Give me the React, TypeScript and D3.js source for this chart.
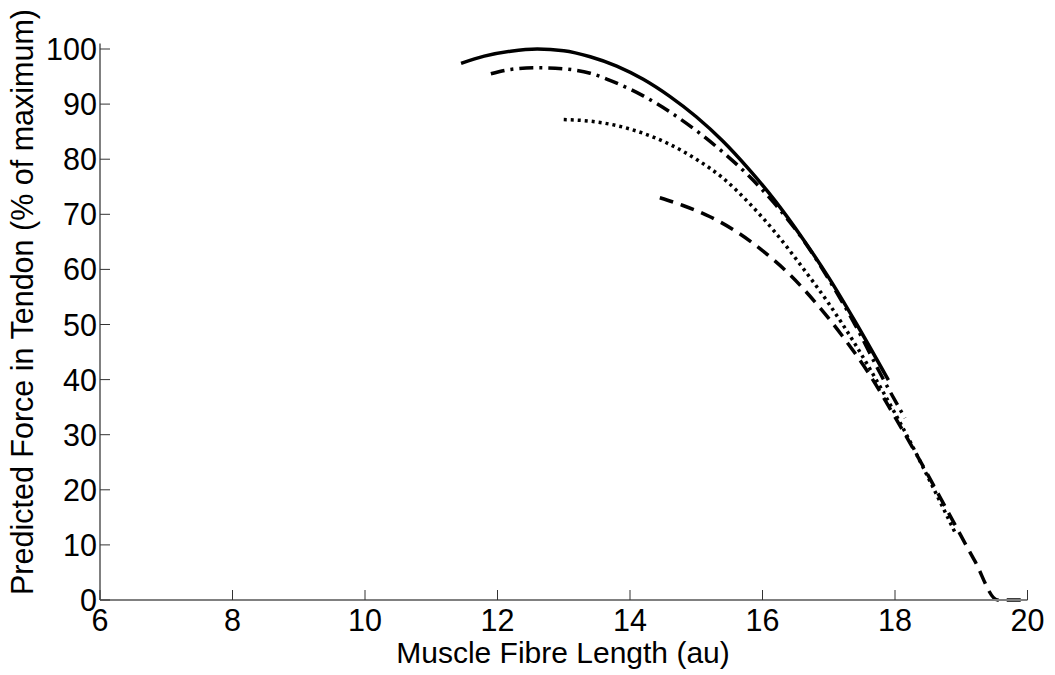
import React from 'react';
import * as d3 from 'd3';

// values (x = fibre length in au, y = % of maximum force)
const solidX = [11.45, 11.8, 12.2, 12.6, 13.0, 13.4, 13.8, 14.2, 14.6, 15.0, 15.4, 15.8, 16.2, 16.6, 17.0, 17.4, 17.9];
const solidY = [97.4, 98.7, 99.6, 100, 99.7, 98.6, 96.9, 94.5, 91.4, 87.7, 83.3, 78.1, 72.3, 65.7, 58.5, 50.5, 39.9];

const dashDotX = [11.9, 12.2, 12.6, 13.0, 13.4, 13.8, 14.2, 14.6, 15.0, 15.4, 15.8, 16.2, 16.6, 17.0, 17.4, 17.8, 18.15];
const dashDotY = [95.5, 96.3, 96.6, 96.4, 95.6, 93.8, 91.5, 88.6, 85.2, 81.3, 76.9, 71.7, 65.6, 58.2, 49.9, 40.6, 33.0];

const dottedX = [13.0, 13.4, 13.8, 14.2, 14.6, 15.0, 15.4, 15.8, 16.2, 16.6, 17.0, 17.4, 17.8, 18.2, 18.6, 18.9];
const dottedY = [87.2, 86.9, 86.1, 84.7, 82.7, 80.0, 76.6, 72.0, 66.6, 60.4, 53.8, 46.4, 38.2, 29.4, 19.8, 12.4];

const dashedX = [14.45, 14.8, 15.2, 15.6, 16.0, 16.4, 16.8, 17.2, 17.6, 18.0, 18.4, 18.8, 19.2, 19.55, 20.0];
const dashedY = [73.0, 71.6, 69.6, 66.9, 63.4, 59.2, 54.0, 48.0, 41.2, 33.2, 24.8, 16.0, 7.2, 0, 0];

const xTicks = [6, 8, 10, 12, 14, 16, 18, 20];
const yTicks = [0, 10, 20, 30, 40, 50, 60, 70, 80, 90, 100];

const series = [
  { xs: solidX, ys: solidY, dash: null },
  { xs: dashDotX, ys: dashDotY, dash: '14,6,3,6' },
  { xs: dottedX, ys: dottedY, dash: '3,4' },
  { xs: dashedX, ys: dashedY, dash: '14,8' },
];

const W = 1055;
const H = 675;
const FONT = 'Arial, "Liberation Sans", Helvetica, sans-serif';

export default function App() {
  const x = d3.scaleLinear().domain([6, 20]).range([100, 1027.5]);
  const y = d3.scaleLinear().domain([0, 101]).range([600, 43.5]);

  const line = d3.line<[number, number]>()
    .x(d => x(d[0]))
    .y(d => y(d[1]))
    .curve(d3.curveMonotoneX);

  return (
    <svg width={W} height={H} style={{ position: 'absolute', left: 0, top: 0, background: '#fff' }}
      fontFamily={FONT}>
      <rect width={W} height={H} fill="#fff" />

      {/* curves */}
      {series.map((s, i) => (
        <path key={i}
          d={line(s.xs.map((v, j) => [v, s.ys[j]] as [number, number])) || ''}
          fill="none" stroke="#000" strokeWidth={3.5}
          strokeDasharray={s.dash || undefined} />
      ))}

      {/* axes, MATLAB style: no box, ticks inward */}
      <line x1={x(6)} x2={x(6)} y1={y(0)} y2={y(101)} stroke="#808080" strokeWidth={2} />
      <line x1={x(6)} x2={x(20)} y1={y(0)} y2={y(0)} stroke="#808080" strokeWidth={2} />

      {yTicks.map(t => (
        <g key={'y' + t}>
          <line x1={x(6)} x2={x(6) + 10} y1={y(t)} y2={y(t)} stroke="#333" strokeWidth={1} />
          <text x={97} y={y(t) + 11} textAnchor="end" fontSize={30.5} fill="#000">{t}</text>
        </g>
      ))}
      {xTicks.map(t => (
        <g key={'x' + t}>
          <line x1={x(t)} x2={x(t)} y1={y(0)} y2={y(0) - 10} stroke="#333" strokeWidth={1} />
          <text x={x(t)} y={631} textAnchor="middle" fontSize={30.5} fill="#000">{t}</text>
        </g>
      ))}

      <text x={563} y={663} textAnchor="middle" fontSize={30} fill="#000">Muscle Fibre Length (au)</text>
      <text transform="translate(33,302) rotate(-90)" textAnchor="middle" fontSize={30.5} fill="#000">
        Predicted Force in Tendon (% of maximum)
      </text>
    </svg>
  );
}
